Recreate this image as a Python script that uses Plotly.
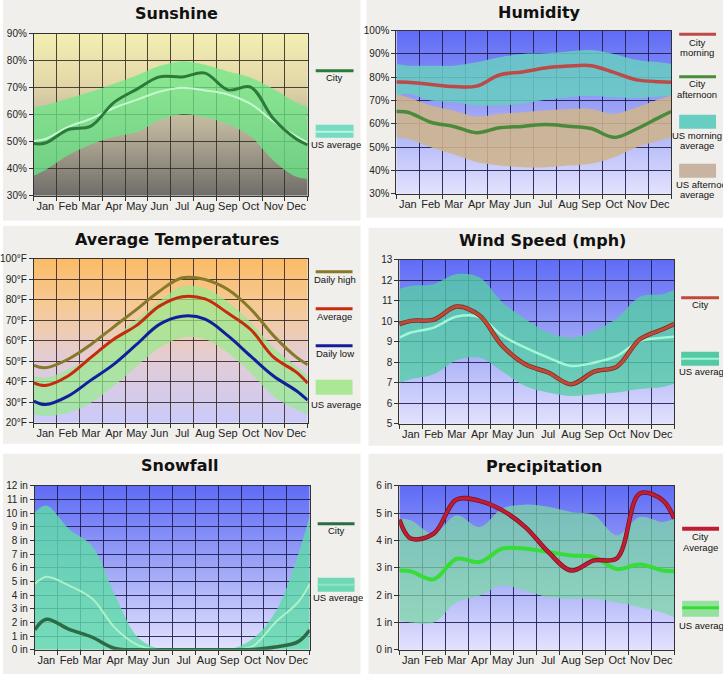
import base64
import struct
import zlib
import plotly.graph_objects as go
from plotly.subplots import make_subplots

W, H = 723, 674

months = ['Jan', 'Feb', 'Mar', 'Apr', 'May', 'Jun', 'Jul', 'Aug', 'Sep', 'Oct', 'Nov', 'Dec']
# left edge, the 12 month centres, right edge
xs = [0, 0.5, 1.5, 2.5, 3.5, 4.5, 5.5, 6.5, 7.5, 8.5, 9.5, 10.5, 11.5, 12]

######################### - Sunshine (%)
sun_city = [49.3, 49.5, 54.5, 55.8, 64.5, 69.4, 74.0, 74.0, 75.4, 69.2, 70.2, 58.5, 51.0, 48.8]
sun_us = [50.3, 51.0, 55.5, 58.5, 62.5, 65.5, 68.5, 70.0, 69.0, 67.5, 64.0, 57.5, 52.0, 49.7]
sun_us_hi = [62.9, 63.5, 66.0, 68.5, 71.5, 74.5, 78.0, 79.8, 78.5, 76.0, 73.7, 69.5, 64.5, 62.9]
sun_us_lo = [37.4, 39.5, 45.0, 49.0, 51.8, 53.5, 58.0, 60.2, 59.0, 56.5, 52.0, 43.0, 37.0, 36.2]

######################### - Humidity (%)
hum_morning = [78.0, 77.9, 76.9, 76.0, 76.2, 81.0, 82.3, 84.0, 84.8, 85.0, 82.1, 78.9, 78.1, 77.9]
hum_afternoon = [65.3, 65.0, 60.7, 58.9, 56.2, 58.3, 58.9, 59.7, 59.0, 58.0, 54.2, 57.9, 62.9, 65.3]
hum_us_m_hi = [85.7, 85.0, 85.0, 85.0, 86.4, 88.6, 90.0, 90.3, 91.1, 91.7, 90.0, 87.4, 86.4, 85.7]
hum_us_m_lo = [72.1, 72.9, 70.0, 69.3, 67.9, 67.9, 68.6, 70.3, 71.4, 72.1, 71.4, 71.1, 71.7, 72.1]
hum_us_a_hi = [72.9, 71.4, 67.9, 65.7, 63.1, 64.3, 65.0, 65.7, 66.4, 66.4, 64.3, 67.1, 70.7, 72.1]
hum_us_a_lo = [54.3, 53.6, 50.0, 46.9, 43.6, 42.1, 41.4, 41.4, 42.1, 42.9, 45.7, 50.0, 52.9, 54.3]

######################### - Average temperatures (F)
temp_high = [48.0, 46.8, 51.0, 58.2, 66.8, 75.3, 84.2, 90.7, 89.9, 85.0, 75.5, 62.5, 52.0, 48.3]
temp_avg = [39.5, 38.2, 42.8, 51.9, 60.7, 67.5, 76.9, 81.5, 80.4, 73.5, 65.5, 52.0, 44.7, 39.3]
temp_low = [30.6, 28.9, 33.0, 40.8, 48.5, 58.2, 68.0, 72.0, 70.6, 62.5, 52.5, 42.8, 35.6, 31.0]
temp_us_hi = [42.8, 42.0, 46.0, 52.5, 61.5, 70.4, 79.3, 86.5, 85.5, 79.0, 69.0, 56.6, 47.6, 42.8]
temp_us_lo = [24.0, 23.3, 24.9, 29.8, 37.9, 47.6, 56.6, 61.5, 60.7, 54.1, 44.4, 33.0, 26.5, 24.0]

######################### - Wind speed (mph)
wind_city = [9.86, 10.02, 10.08, 10.72, 10.28, 8.8, 7.9, 7.5, 6.93, 7.54, 7.79, 9.12, 9.61, 9.86]
wind_us = [9.2, 9.45, 9.69, 10.23, 10.2, 9.29, 8.72, 8.23, 7.82, 7.98, 8.31, 9.04, 9.2, 9.25]
wind_us_hi = [11.57, 11.73, 11.81, 12.3, 12.14, 10.92, 10.1, 9.45, 9.2, 9.53, 10.15, 11.2, 11.32, 11.52]
wind_us_lo = [7.0, 7.17, 7.41, 8.1, 8.23, 7.55, 6.84, 6.52, 6.36, 6.44, 6.52, 6.7, 6.8, 6.95]

######################### - Snowfall (in)
snow_city = [1.46, 2.23, 1.5, 0.92, 0.1, 0.0, 0.0, 0.0, 0.0, 0.0, 0.02, 0.2, 0.6, 1.45]
snow_us = [4.82, 5.35, 4.7, 3.75, 1.6, 0.35, 0.0, 0.0, 0.0, 0.0, 0.25, 2.0, 3.5, 4.82]
snow_us_hi = [10.05, 10.55, 8.83, 7.6, 4.0, 0.9, 0.05, 0.0, 0.0, 0.05, 0.8, 2.75, 7.0, 9.8]

######################### - Precipitation (in)
prec_city = [4.76, 4.07, 4.25, 5.5, 5.45, 5.1, 4.49, 3.58, 2.9, 3.27, 3.35, 5.72, 5.47, 4.8]
prec_us = [2.9, 2.87, 2.58, 3.33, 3.21, 3.7, 3.7, 3.58, 3.45, 3.39, 2.96, 3.12, 2.9, 2.87]
prec_us_hi = [4.8, 4.74, 4.25, 4.92, 4.49, 5.17, 5.31, 5.23, 5.04, 4.92, 4.19, 4.86, 4.68, 4.8]
prec_us_lo = [1.07, 1.0, 1.0, 1.74, 1.98, 2.35, 2.17, 1.92, 1.86, 1.86, 1.74, 1.56, 1.37, 1.19]


def chunk(tag, data):
    return struct.pack('>I', len(data)) + tag + data + struct.pack('>I', zlib.crc32(tag + data) & 0xffffffff)


def gradient_png(stops, n=120):
    # vertical gradient, stops = [(pos_from_top, (r, g, b)), ...]
    raw = b''
    for i in range(n):
        t = i / (n - 1)
        for (p0, c0), (p1, c1) in zip(stops[:-1], stops[1:]):
            if p0 <= t <= p1:
                f = (t - p0) / (p1 - p0)
                c = [round(a + (b - a) * f) for a, b in zip(c0, c1)]
                break
        raw += b'\x00' + bytes(c + c)
    png = b'\x89PNG\r\n\x1a\n'
    png += chunk(b'IHDR', struct.pack('>IIBBBBB', 2, n, 8, 2, 0, 0, 0))
    png += chunk(b'IDAT', zlib.compress(raw))
    png += chunk(b'IEND', b'')
    return 'data:image/png;base64,' + base64.b64encode(png).decode()


bg_sun = [(0, (243, 239, 178)), (0.3, (228, 216, 168)), (0.6, (184, 176, 154)), (1, (112, 110, 106))]
bg_temp = [(0, (251, 188, 104)), (0.3, (246, 202, 152)), (0.6, (228, 204, 212)), (1, (202, 202, 250))]
bg_blue = [(0, (96, 108, 246)), (0.45, (152, 160, 246)), (1, (226, 226, 253))]

# the photographed page comes out squeezed a little vertically (y_out ~ 5.3 + 0.982*y),
# so vertical pixel positions are pre-corrected here
SHIFT, SQUEEZE = 5.3, 0.982


def px(x):
    return x / W


def py(y):
    return 1 - (y - SHIFT) / SQUEEZE / H


fig = make_subplots(rows=3, cols=2)

# plot areas in pixels: (left, right, top, bottom)
boxes = [(31, 306, 33, 195), (395, 671, 30, 193),
         (31, 306, 258, 422), (398, 674, 259, 423),
         (32, 308, 485, 649), (398, 674, 485, 649)]
yranges = [(30, 90), (30, 100), (20, 100), (5, 13), (0, 12), (0, 6)]
ysteps = [10, 10, 10, 1, 1, 1]
ysuffix = ['%', '%', '°F', '', ' in', ' in']
backgrounds = [bg_sun, bg_blue, bg_temp, bg_blue, bg_blue, bg_blue]
gridcols = ['rgba(55,50,40,0.9)', 'rgba(30,30,80,0.9)', 'rgba(60,45,40,0.9)',
            'rgba(30,30,80,0.9)', 'rgba(30,30,80,0.9)', 'rgba(30,30,80,0.9)']


def add_line(r, c, y, color, width, edge=None):
    if edge:
        fig.add_trace(go.Scatter(x=xs, y=y, mode='lines', line=dict(color=edge, width=width + 1.5, shape='spline'),
                                 hoverinfo='skip', showlegend=False), row=r, col=c)
    fig.add_trace(go.Scatter(x=xs, y=y, mode='lines', line=dict(color=color, width=width, shape='spline'),
                             hoverinfo='skip', showlegend=False), row=r, col=c)


def add_band(r, c, hi, lo, color):
    fig.add_trace(go.Scatter(x=xs, y=hi, mode='lines', line=dict(width=0, shape='spline'),
                             hoverinfo='skip', showlegend=False), row=r, col=c)
    fig.add_trace(go.Scatter(x=xs, y=lo, mode='lines', line=dict(width=0, shape='spline'), fill='tonexty',
                             fillcolor=color, hoverinfo='skip', showlegend=False), row=r, col=c)


# Sunshine
add_band(1, 1, sun_us_hi, sun_us_lo, 'rgba(105,232,135,0.75)')
add_line(1, 1, sun_us, 'rgba(205,250,215,0.9)', 2)
add_line(1, 1, sun_city, '#2c7a3a', 3)

# Humidity
add_band(1, 2, hum_us_a_hi, hum_us_a_lo, 'rgba(206,180,140,0.88)')
add_band(1, 2, hum_us_m_hi, hum_us_m_lo, 'rgba(104,206,194,0.85)')
add_line(1, 2, hum_morning, '#bb4a48', 3.5)
add_line(1, 2, hum_afternoon, '#4a8a3a', 3.5)

# Temperatures
add_band(2, 1, temp_us_hi, temp_us_lo, 'rgba(150,236,140,0.7)')
add_line(2, 1, temp_high, '#86792a', 3)
add_line(2, 1, temp_avg, '#c82a10', 3)
add_line(2, 1, temp_low, '#10209c', 3)

# Wind speed
add_band(2, 2, wind_us_hi, wind_us_lo, 'rgba(85,206,165,0.78)')
add_line(2, 2, wind_us, 'rgba(165,250,215,0.95)', 2.5)
add_line(2, 2, wind_city, '#bf4a38', 3, edge='#7a2a20')

# Snowfall
fig.add_trace(go.Scatter(x=xs, y=snow_us_hi, mode='lines', line=dict(width=0, shape='spline'), fill='tozeroy',
                         fillcolor='rgba(95,218,170,0.82)', hoverinfo='skip', showlegend=False), row=3, col=1)
add_line(3, 1, snow_us, 'rgba(185,245,205,0.85)', 2)
add_line(3, 1, snow_city, '#2c6b45', 3.5)

# Precipitation
add_band(3, 2, prec_us_hi, prec_us_lo, 'rgba(125,216,165,0.72)')
add_line(3, 2, prec_us, '#36dd36', 4)
add_line(3, 2, prec_city, '#c01c32', 3, edge='#7a1020')

shapes = []
images = []
# grey panels behind each chart
for x0, x1, y0, y1 in [(0, 359, -6, 220), (365, 723, -6, 217), (0, 359, 225, 443),
                       (367, 723, 227, 445), (0, 359, 453, 680), (367, 723, 453, 680)]:
    shapes.append(dict(type='rect', xref='paper', yref='paper', x0=px(x0), x1=px(x1), y0=py(y1), y1=py(y0),
                       fillcolor='#f0efec', line=dict(width=0), layer='below'))

axis_font = dict(family='Liberation Sans', size=10, color='#222222')
for i, (box, yr, step, suf, bg, gc) in enumerate(zip(boxes, yranges, ysteps, ysuffix, backgrounds, gridcols)):
    n = '' if i == 0 else str(i + 1)
    left, right, top, bottom = box
    fig.layout['xaxis' + n].update(
        domain=[px(left), px(right)], range=[0, 12], tickvals=xs[1:-1], ticktext=months, ticks='',
        showgrid=False, showline=True, mirror=True, linecolor='#333333', linewidth=1, zeroline=False,
        tickfont=dict(family='Liberation Sans', size=11, color='#222222'),
        minor=dict(tickmode='linear', tick0=0, dtick=1, showgrid=True, gridcolor=gc, gridwidth=1,
                   ticks='outside', ticklen=4, tickcolor='#333333'),
        fixedrange=True)
    fig.layout['yaxis' + n].update(
        domain=[py(bottom), py(top)], range=list(yr), dtick=step, tick0=yr[0], ticksuffix=suf,
        showgrid=True, gridcolor=gc, gridwidth=1, showline=True, mirror=True, linecolor='#333333',
        ticks='outside', ticklen=4, tickcolor='#333333', zeroline=False, tickfont=axis_font, fixedrange=True)
    images.append(dict(source=gradient_png(bg), xref='x' + n, yref='y' + n, x=0, y=yr[1], sizex=12,
                       sizey=yr[1] - yr[0], xanchor='left', yanchor='top', sizing='stretch', layer='below'))

annotations = []


def text(x, y, s, size=9.5, anchor='center', bold=False, family='Liberation Sans'):
    annotations.append(dict(xref='paper', yref='paper', x=px(x), y=py(y), text='<b>%s</b>' % s if bold else s,
                            showarrow=False, xanchor=anchor, yanchor='middle',
                            font=dict(family=family, size=size, color='#111111')))


def leg_line(x0, x1, y, color, width=3):
    shapes.append(dict(type='line', xref='paper', yref='paper', x0=px(x0), x1=px(x1), y0=py(y), y1=py(y),
                       line=dict(color=color, width=width)))


def leg_box(x0, x1, y0, y1, color):
    shapes.append(dict(type='rect', xref='paper', yref='paper', x0=px(x0), x1=px(x1), y0=py(y1), y1=py(y0),
                       fillcolor=color, line=dict(width=0)))


# titles
for x, y, s in [(174, 13, 'Sunshine'), (539, 12, 'Humidity'), (175, 239, 'Average Temperatures'),
                (542, 240, 'Wind Speed (mph)'), (177, 465, 'Snowfall'), (543, 466, 'Precipitation')]:
    text(x, y, s, size=16, bold=True, family='DejaVu Sans')

# Sunshine legend
leg_line(314, 352, 70, '#2c7a3a')
text(333, 77, 'City')
leg_box(314, 352, 124, 137, 'rgba(105,215,190,0.9)')
leg_line(314, 352, 131, 'rgba(190,250,225,0.9)', 2)
text(334, 144, 'US average')

# Humidity legend
leg_line(679, 716, 33.5, '#bb4a48')
text(697, 42, 'City')
text(697, 52, 'morning')
leg_line(679, 716, 76, '#4a8a3a')
text(697, 83, 'City')
text(697, 94, 'afternoon')
leg_box(679, 716, 114, 128, 'rgba(104,206,194,1)')
text(697, 134.5, 'US morning')
text(697, 145, 'average')
leg_box(679, 716, 163, 177, 'rgba(200,180,160,1)')
text(674, 184, 'US afternoon', anchor='left')
text(697, 194, 'average')

# Temperature legend
leg_line(314, 351, 271, '#86792a')
text(333, 279, 'Daily high')
leg_line(314, 351, 308, '#c82a10')
text(333, 316, 'Average')
leg_line(314, 351, 345, '#10209c')
text(333, 353, 'Daily low')
leg_box(314, 351, 379, 394, 'rgba(170,232,150,1)')
text(334, 404, 'US average')

# Wind legend
leg_line(681, 719, 297, '#bf4a38')
text(700, 304, 'City')
leg_box(681, 719, 351, 365, 'rgba(85,200,165,1)')
leg_line(681, 719, 358, 'rgba(165,250,215,0.95)', 2)
text(677, 371, 'US average', anchor='left')

# Snowfall legend
leg_line(316, 353, 523, '#2c6b45')
text(335, 530, 'City')
leg_box(316, 353, 577, 591, 'rgba(110,215,180,1)')
leg_line(316, 353, 584, 'rgba(150,230,200,0.9)', 2)
text(336, 597, 'US average')

# Precipitation legend
leg_line(682, 719, 528, '#c01c32', 4)
text(700, 536, 'City')
text(700, 547, 'Average')
leg_box(682, 719, 600, 616, 'rgba(150,225,160,1)')
leg_line(682, 719, 607, '#36dd36', 3)
text(677, 625, 'US average', anchor='left')

fig.update_layout(width=W, height=H, margin=dict(l=0, r=0, t=0, b=0), paper_bgcolor='white',
                  plot_bgcolor='rgba(0,0,0,0)', showlegend=False, shapes=shapes, images=images,
                  annotations=annotations)
# pin the 723x674 figure to the window's top-left corner
page_fix = ("document.documentElement.style.overflow='hidden';"
            "document.body.style.margin='0';document.body.style.overflow='hidden';"
            "document.body.style.background='#f0efec';"
            "var gd=document.querySelector('.plotly-graph-div');"
            "gd.style.position='fixed';gd.style.left='0px';gd.style.top='0px';")
fig.write_html("out.html", config={'displayModeBar': False}, post_script=page_fix)
